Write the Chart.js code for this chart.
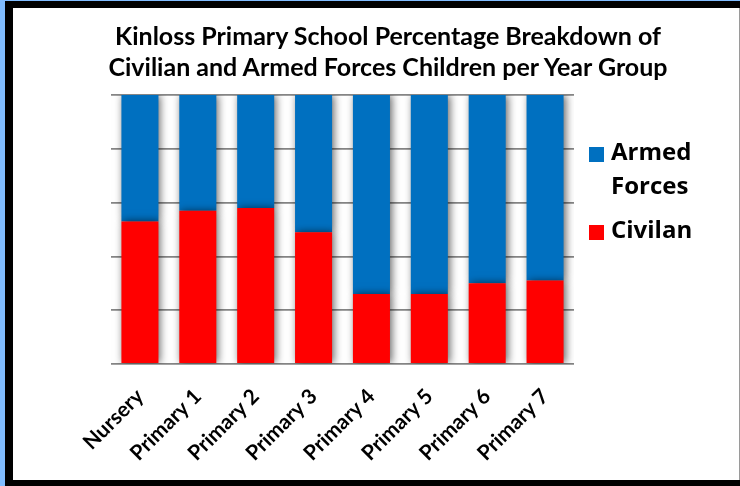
<!DOCTYPE html>
<html>
<head>
<meta charset="utf-8">
<script src="https://cdn.jsdelivr.net/npm/chart.js@4"></script>
<style>
    body { margin: 0; width: 740px; height: 486px; background: #80bcff; position: relative; overflow: hidden; }
    #frame { position: absolute; left: 5px; top: 1px; width: 800px; height: 500px; background: #000; }
    #panel { position: absolute; left: 13px; top: 8px; width: 726px; height: 472px; background: #fff; border-right: 1px solid #9a9a9a; }
    #chartTitle { position: absolute; left: 0; top: 12px; width: 750px; text-align: center;
        font: bold 25px Lato, sans-serif; line-height: 31px; color: #000; }
    #legend { position: absolute; left: 576px; top: 126px; font: bold 24px "Open Sans", sans-serif; color: #000; }
    .item { position: relative; padding-left: 22px; line-height: 34px; margin-bottom: 10px; }
    .swatch { position: absolute; left: 0; top: 13px; width: 15px; height: 15px; }
    canvas { position: absolute; left: 0; top: 0; }
</style>
</head>
<body>
<div id="frame"></div>
<div id="panel">
    <canvas id="chart" width="726" height="472"></canvas>
    <div id="chartTitle">Kinloss Primary School Percentage Breakdown of<br>Civilian and Armed Forces Children per Year Group</div>
    <div id="legend"></div>
</div>
<script>
const yearGroups = ["Nursery", "Primary 1", "Primary 2", "Primary 3", "Primary 4", "Primary 5", "Primary 6", "Primary 7"];
const civilian = [53, 57, 58, 49, 26, 26, 30, 31];
const armedForces = [47, 43, 42, 51, 74, 74, 70, 69];

// soft grey drop shadow behind the bars
const barShadow = {
    id: "barShadow",
    beforeDatasetsDraw(chart) {
        const ctx = chart.ctx;
        ctx.save();
        ctx.shadowColor = "rgba(0,0,0,0.6)";
        ctx.shadowBlur = 8;
        ctx.shadowOffsetX = 2;
        ctx.shadowOffsetY = 0;
    },
    afterDatasetsDraw(chart) {
        chart.ctx.restore();
    }
};

const chart = new Chart(document.getElementById("chart").getContext("2d"), {
    type: "bar",
    data: {
        labels: yearGroups,
        datasets: [
            { label: "Civilan", data: civilian, backgroundColor: "#ff0000" },
            { label: "Armed Forces", data: armedForces, backgroundColor: "#0070c0" }
        ]
    },
    options: {
        responsive: false,
        animation: false,
        layout: { padding: { left: 98, right: 165, top: 87, bottom: 0 } },
        datasets: { bar: { categoryPercentage: 1, barPercentage: 0.64 } },
        plugins: { legend: { display: false }, title: { display: false }, tooltip: { enabled: false } },
        scales: {
            x: {
                stacked: true,
                grid: { display: false },
                border: { display: false },
                ticks: {
                    color: "#000",
                    font: { family: "Lato", weight: "bold", size: 21 },
                    minRotation: 45,
                    maxRotation: 45,
                    padding: 12
                },
                afterFit(scale) { scale.height = 116; }
            },
            y: {
                stacked: true,
                min: 0,
                max: 100,
                ticks: { display: false, stepSize: 20 },
                grid: { color: "#858585", lineWidth: 1.8, drawTicks: false },
                border: { display: false },
                afterFit(scale) { scale.width = 0; }
            }
        }
    },
    plugins: [barShadow]
});

// legend lists the top series first, like the original
const legend = document.getElementById("legend");
[1, 0].forEach(i => {
    const ds = chart.data.datasets[i];
    const item = document.createElement("div");
    item.className = "item";
    item.innerHTML = '<span class="swatch" style="background:' + ds.backgroundColor + '"></span>' + ds.label.split(" ").join("<br>");
    legend.appendChild(item);
});
</script>
</body>
</html>
